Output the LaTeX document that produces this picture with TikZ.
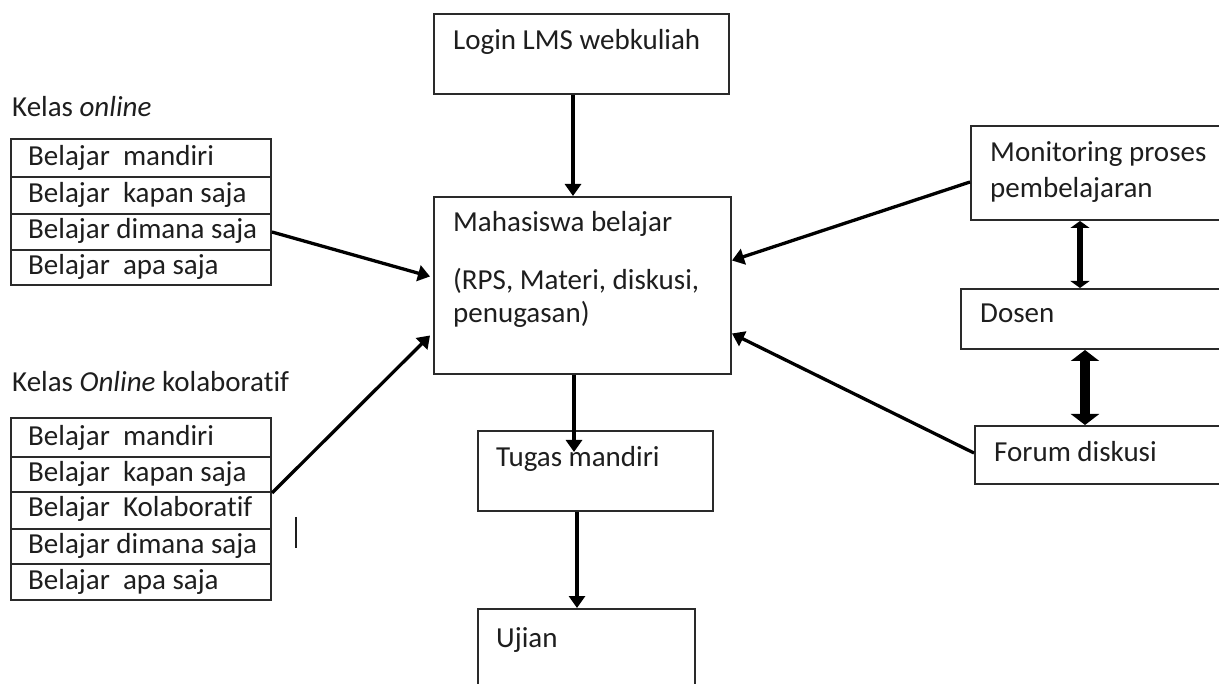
\documentclass[tikz,border=0pt]{standalone}
\usepackage{fontspec}
\setmainfont{Carlito}[Ligatures=NoCommon]
\usetikzlibrary{arrows.meta,calc}
\definecolor{ink}{HTML}{1E1E1E}
\definecolor{edge}{HTML}{2A2A2A}
\begin{document}
\begin{tikzpicture}[x=1pt,y=-1pt,
  box/.style={draw=edge,line width=2pt,anchor=north west,inner sep=0pt,rectangle},
  txt/.style={anchor=base west,inner sep=0pt,text=ink,font=\fontsize{29}{34}\selectfont},
  arr/.style={draw=black,line width=3.3pt,-{Triangle[length=12pt,width=16pt]}},
  dbl/.style={draw=black,line width=6pt,{Triangle[length=7pt,width=19pt]}-{Triangle[length=7pt,width=19pt]}},
  dblb/.style={draw=black,line width=10pt,{Triangle[length=11pt,width=28pt]}-{Triangle[length=11pt,width=28pt]}}]
\useasboundingbox (0,0) rectangle (1219,684);
\clip (0,0) rectangle (1219,684);
\fill[white] (0,0) rectangle (1219,684);

% central column
\node[box,minimum width=295pt,minimum height=80pt] (login) at (433,13) {};
\node[txt] (tlogin) at (453,50) {Login LMS webkuliah};
\node[box,minimum width=297pt,minimum height=177pt] (mhs) at (433,196) {};
\node[txt] (tm1) at (453,232) {Mahasiswa belajar};
\node[txt] (tm2) at (453,290) {(RPS, Materi, diskusi,};
\node[txt] (tm3) at (453,323) {penugasan)};
\node[box,minimum width=235pt,minimum height=80pt] (tugas) at (477,430) {};
\node[txt] (ttugas) at (496,467) {Tugas mandiri};
\node[box,minimum width=217pt,minimum height=100pt] (ujian) at (477,608) {};
\node[txt] (tujian) at (496,647) {Ujian};

% right column
\node[box,minimum width=270pt,minimum height=94pt] (mon) at (970,125) {};
\node[txt] (tmon1) at (990,162) {Monitoring proses};
\node[txt] (tmon2) at (990,198) {pembelajaran};
\node[box,minimum width=280pt,minimum height=60pt] (dosen) at (960,288) {};
\node[txt] (tdosen) at (980,323) {Dosen};
\node[box,minimum width=270pt,minimum height=58pt] (forum) at (974,425) {};
\node[txt] (tforum) at (994,462) {Forum diskusi};

% left table 1
\node[txt] (k1) at (12,117) {Kelas \textit{online}};
\node[box,minimum width=260pt,minimum height=38pt] (a1) at (10,138) {};
\node[box,minimum width=260pt,minimum height=37pt] (a2) at (10,176) {};
\node[box,minimum width=260pt,minimum height=36pt] (a3) at (10,213) {};
\node[box,minimum width=260pt,minimum height=35pt] (a4) at (10,249) {};
\node[txt] at (28,166) {Belajar\ \ mandiri};
\node[txt] at (28,203) {Belajar\ \ kapan saja};
\node[txt] at (28,239) {Belajar dimana saja};
\node[txt] at (28,275) {Belajar\ \ apa saja};

% left table 2
\node[txt] (k2) at (12,392) {Kelas \textit{Online} kolaboratif};
\node[box,minimum width=260pt,minimum height=39pt] (b1) at (10,417) {};
\node[box,minimum width=260pt,minimum height=35pt] (b2) at (10,456) {};
\node[box,minimum width=260pt,minimum height=37pt] (b3) at (10,491) {};
\node[box,minimum width=260pt,minimum height=35pt] (b4) at (10,528) {};
\node[box,minimum width=260pt,minimum height=36pt] (b5) at (10,563) {};
\node[txt] at (28,446) {Belajar\ \ mandiri};
\node[txt] at (28,482) {Belajar\ \ kapan saja};
\node[txt] at (28,517) {Belajar\ \ Kolaboratif};
\node[txt] at (28,553) {Belajar dimana saja};
\node[txt] at (28,589) {Belajar\ \ apa saja};

% stray cursor mark
\coordinate (c1) at (296,517);
\coordinate (c2) at (296,548);
\draw[ink,line width=1.5pt] (c1) -- (c2);

% connectors
\coordinate (x1) at (573,0);
\coordinate (x2) at (574,452);
\coordinate (x3) at (577,0);
\coordinate (x4) at (1080,0);
\coordinate (x5) at (1085,0);
\draw[arr] (login.south -| x1) -- (mhs.north -| x1);
\draw[arr] (mhs.south -| x2) -- (x2);
\draw[arr] (tugas.south -| x3) -- (ujian.north -| x3);
\draw[arr] ($(mon.west)+(0,9)$) -- ($(mhs.east)+(0,-25)$);
\draw[arr] ($(forum.west)+(0,-2)$) -- ($(mhs.east)+(0,48)$);
\draw[arr] (a3.east) -- ($(mhs.west)+(-3,-9)$);
\draw[arr] (b2.south east) -- ($(mhs.west)+(-3,50)$);
\draw[dbl] (mon.south -| x4) -- (dosen.north -| x4);
\draw[dblb] (dosen.south -| x5) -- (forum.north -| x5);
\end{tikzpicture}
\end{document}
